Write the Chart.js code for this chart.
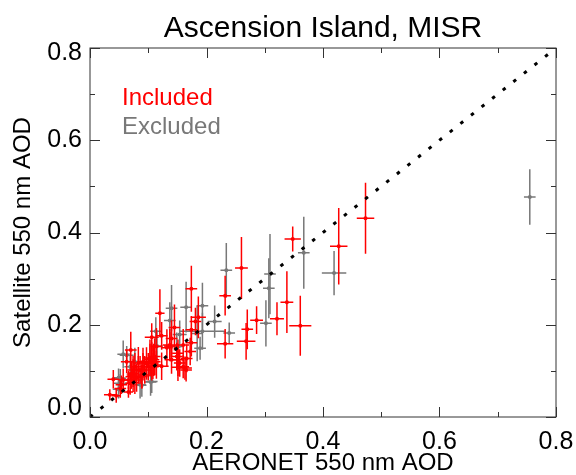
<!DOCTYPE html>
<html>
<head>
<meta charset="utf-8">
<script src="https://cdn.jsdelivr.net/npm/chart.js@4"></script>
<style>
  body { margin: 0; background: #fff; }
</style>
</head>
<body>
<canvas id="chart" width="576" height="475"></canvas>
<script>
// Incluidos (rojo)
const incX = [.473,.427,.348,.26,.232,.338,.361,.321,.286,.27,.268,.232,.174,.186,.181,.174,.174,.172,.12,.145,.106,.123,.07,.137,.166,.163,.154,.149,.132,.123,.103,.091,.097,.106,.111,.077,.074,.071,.083,.089,.077,.069,.063,.057,.04,.052,.066,.034,.045,.054,.074,.083,.091,.103,.108,.1,.111,.071,.08,.066,.089,.074,.086,.094,.14,.137,.16,.151,.14,.151,.16,.151,.165,.109,.106,.114,.114];
const incY = [.431,.37,.386,.323,.263,.249,.198,.213,.21,.19,.164,.159,.278,.216,.207,.189,.161,.142,.225,.194,.173,.176,.145,.154,.127,.106,.117,.131,.15,.11,.124,.109,.116,.127,.12,.109,.095,.091,.102,.088,.08,.073,.12,.08,.082,.062,.054,.048,.046,.07,.102,.117,.12,.128,.117,.109,.131,.087,.085,.08,.091,.074,.102,.102,.17,.156,.156,.138,.124,.124,.109,.108,.102,.124,.109,.153,.113];
const incXErr = [.015,.015,.014,.011,.01,.011,.019,.012,.011,.01,.016,.014,.01,.013,.01,.01,.01,.01,.008,.01,.012,.01,.01,.01,.01,.012,.01,.01,.01,.012,.01,.01,.008,.01,.01,.008,.01,.008,.01,.01,.01,.008,.01,.008,.01,.01,.008,.01,.008,.01,.01,.008,.01,.012,.01,.012,.01,.01,.008,.01,.012,.01,.008,.01,.01,.012,.01,.01,.012,.01,.01,.012,.01,.01,.012,.01,.008];
const incYErr = [.077,.083,.027,.067,.043,.067,.065,.036,.03,.043,.04,.032,.05,.045,.03,.03,.03,.03,.052,.05,.03,.03,.04,.03,.03,.025,.03,.03,.04,.03,.035,.03,.035,.035,.03,.03,.03,.03,.03,.025,.03,.025,.025,.025,.02,.02,.012,.012,.015,.02,.03,.035,.03,.04,.035,.03,.04,.025,.03,.02,.03,.02,.03,.03,.04,.035,.035,.03,.03,.035,.025,.03,.025,.035,.03,.04,.03];

// Excluidos (gris)
const excX = [.755,.367,.419,.234,.309,.307,.302,.239,.214,.193,.193,.189,.184,.14,.165,.137,.113,.115,.149,.104,.086,.052,.063,.069,.052,.049,.057,.077,.049,.089,.106,.154];
const excY = [.477,.356,.312,.318,.31,.279,.203,.182,.207,.241,.186,.149,.181,.236,.238,.209,.186,.154,.153,.076,.07,.084,.134,.109,.073,.06,.136,.12,.085,.069,.077,.179];
const excXErr = [.01,.01,.021,.01,.01,.01,.01,.01,.012,.01,.04,.01,.01,.01,.01,.01,.01,.01,.01,.01,.01,.01,.012,.01,.012,.01,.01,.01,.01,.008,.01,.012];
const excYErr = [.06,.078,.048,.059,.087,.065,.05,.023,.035,.05,.04,.025,.06,.05,.055,.04,.03,.03,.03,.03,.03,.02,.02,.03,.02,.02,.03,.03,.02,.025,.025,.03];

const unoAUno = [0, .8];
const marcasMayores = [0, .2, .4, .6, .8];
const marcasMenores = [.1, .3, .5, .7];
const etiquetasY = ["0.0", "0.2", "0.4", "0.6", "0.8"];
const desplazaY = [-9, 0, 0, 0, 5];

const fuente = '"Liberation Sans", Arial, sans-serif';
const ROJO = "rgb(255,0,0)";
const GRIS = "rgb(120,120,120)";

function puntos(xs, ys) {
  return xs.map((x, i) => ({ x: x, y: ys[i] }));
}

// Barras de error, dibujadas justo antes de los puntos de cada serie
const barrasError = {
  id: "barrasError",
  beforeDatasetDraw(chart, args) {
    const ds = chart.data.datasets[args.index];
    if (!ds.errX) return;
    const x = chart.scales.x, y = chart.scales.y, ctx = chart.ctx;
    ctx.save();
    ctx.strokeStyle = ds.borderColor;
    ctx.lineWidth = 1.5;
    ds.data.forEach((p, i) => {
      ctx.beginPath();
      ctx.moveTo(x.getPixelForValue(p.x - ds.errX[i]), y.getPixelForValue(p.y));
      ctx.lineTo(x.getPixelForValue(p.x + ds.errX[i]), y.getPixelForValue(p.y));
      ctx.moveTo(x.getPixelForValue(p.x), y.getPixelForValue(p.y - ds.errY[i]));
      ctx.lineTo(x.getPixelForValue(p.x), y.getPixelForValue(p.y + ds.errY[i]));
      ctx.stroke();
    });
    ctx.restore();
  }
};

// Marcas hacia dentro en los cuatro lados, etiquetas del eje Y y leyenda
const marcos = {
  id: "marcos",
  afterDraw(chart) {
    const a = chart.chartArea, x = chart.scales.x, y = chart.scales.y, ctx = chart.ctx;
    ctx.save();
    ctx.strokeStyle = "#333";
    ctx.lineWidth = 1;
    ctx.strokeRect(a.left, a.top, a.right - a.left, a.bottom - a.top);
    const marca = (v, largo) => {
      const px = Math.round(x.getPixelForValue(v)) + .5;
      const py = Math.round(y.getPixelForValue(v)) + .5;
      ctx.beginPath();
      ctx.moveTo(px, a.bottom); ctx.lineTo(px, a.bottom - largo);
      ctx.moveTo(px, a.top); ctx.lineTo(px, a.top + largo);
      ctx.moveTo(a.left, py); ctx.lineTo(a.left + largo, py);
      ctx.moveTo(a.right, py); ctx.lineTo(a.right - largo, py);
      ctx.stroke();
    };
    marcasMayores.forEach(v => marca(v, 10));
    marcasMenores.forEach(v => marca(v, 5));

    ctx.fillStyle = "#000";
    ctx.font = "25px " + fuente;
    ctx.textAlign = "right";
    ctx.textBaseline = "middle";
    etiquetasY.forEach((t, i) => {
      ctx.fillText(t, 82, y.getPixelForValue(marcasMayores[i]) + desplazaY[i]);
    });

    ctx.font = "24px " + fuente;
    ctx.textAlign = "left";
    ctx.fillStyle = ROJO;
    ctx.fillText("Included", 122, 98);
    ctx.fillStyle = GRIS;
    ctx.fillText("Excluded", 122, 127);
    ctx.restore();
  }
};

const ctx = document.getElementById("chart").getContext("2d");
new Chart(ctx, {
  type: "scatter",
  data: {
    datasets: [
      {
        label: "1:1",
        type: "line",
        data: puntos(unoAUno, unoAUno),
        borderColor: "#000",
        borderWidth: 3,
        borderDash: [3.5, 10],
        pointRadius: 0,
        fill: false,
        order: 1
      },
      {
        label: "Included",
        data: puntos(incX, incY),
        errX: incXErr,
        errY: incYErr,
        borderColor: ROJO,
        backgroundColor: ROJO,
        pointRadius: 2,
        pointBorderWidth: 0,
        order: 2
      },
      {
        label: "Excluded",
        data: puntos(excX, excY),
        errX: excXErr,
        errY: excYErr,
        borderColor: GRIS,
        backgroundColor: GRIS,
        pointRadius: 2,
        pointBorderWidth: 0,
        order: 3
      }
    ]
  },
  options: {
    responsive: false,
    animation: false,
    layout: { padding: { right: 20 } },
    plugins: {
      legend: { display: false },
      tooltip: { enabled: false },
      title: {
        display: true,
        fullSize: false,
        text: "Ascension Island, MISR",
        color: "#000",
        font: { family: fuente, size: 30, weight: "normal" },
        padding: { top: 11, bottom: 1 }
      }
    },
    scales: {
      x: {
        min: 0,
        max: .8,
        afterFit(s) { s.height = 58; s.paddingLeft = 0; s.paddingRight = 0; },
        grid: { display: false, drawTicks: false },
        border: { display: false },
        ticks: {
          stepSize: .2,
          color: "#000",
          padding: 10,
          maxRotation: 0,
          font: { family: fuente, size: 25 },
          callback: v => v.toFixed(1)
        },
        title: {
          display: true,
          text: "AERONET 550 nm AOD",
          color: "#000",
          padding: 0,
          font: { family: fuente, size: 24, lineHeight: 1 }
        }
      },
      y: {
        min: 0,
        max: .8,
        afterFit(s) { s.width = 90; s.paddingTop = 0; s.paddingBottom = 0; },
        grid: { display: false, drawTicks: false },
        border: { display: false },
        ticks: {
          stepSize: .2,
          color: "rgba(0,0,0,0)",
          font: { family: fuente, size: 25 }
        },
        title: {
          display: true,
          text: "Satellite 550 nm AOD",
          color: "#000",
          padding: { top: 9, bottom: 0 },
          font: { family: fuente, size: 24 }
        }
      }
    }
  },
  plugins: [barrasError, marcos]
});
</script>
</body>
</html>
